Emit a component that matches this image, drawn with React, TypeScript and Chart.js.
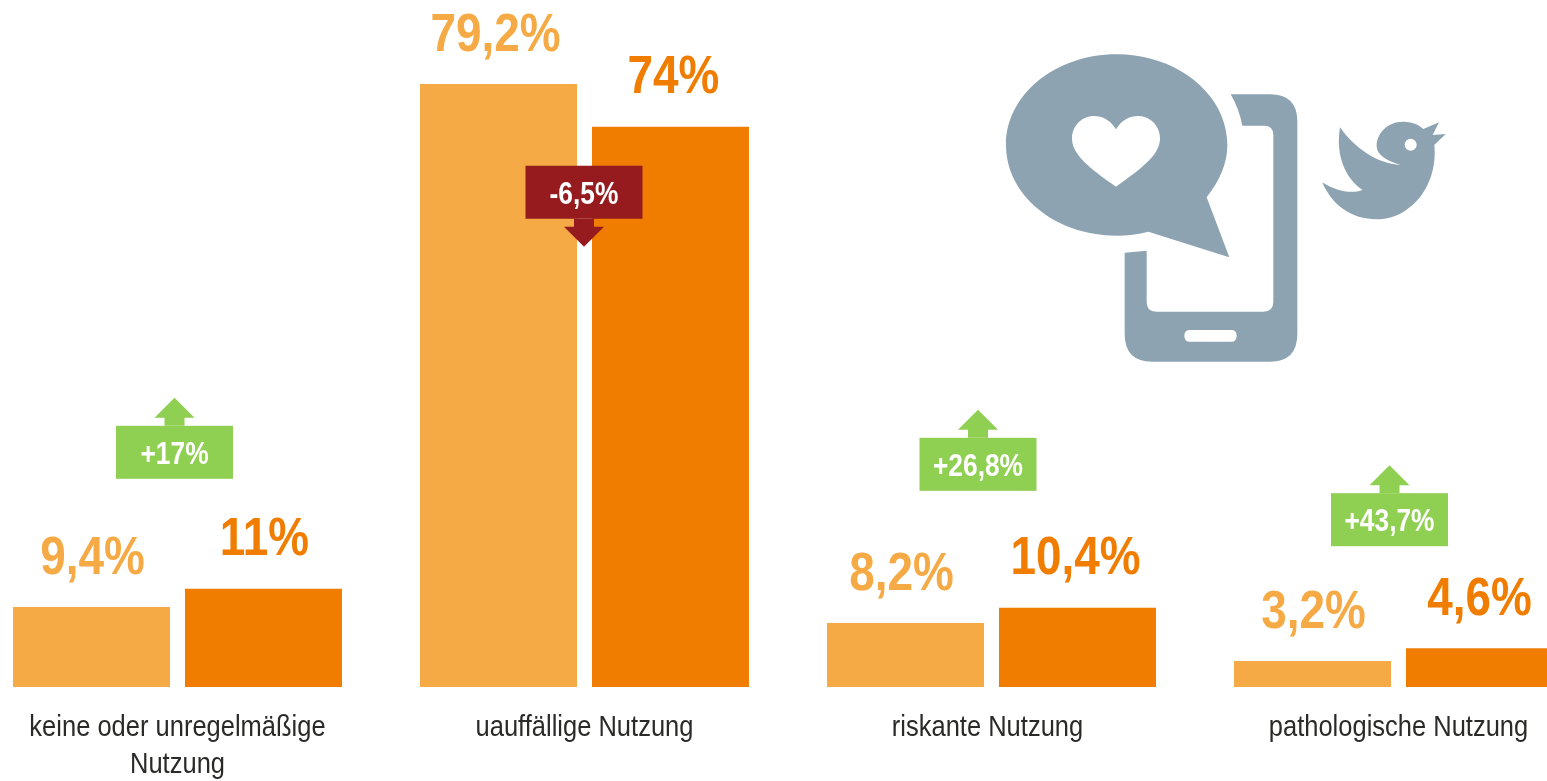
import React, { useEffect, useRef } from "react";
import { Chart, registerables } from "chart.js";

Chart.register(...registerables);

const categories: string[][] = [
  ["keine oder unregelmäßige", "Nutzung"],
  ["uauffällige Nutzung"],
  ["riskante Nutzung"],
  ["pathologische Nutzung"],
];
// bar heights, in percent-axis units
const seriesLight = [10.5, 79.2, 8.4, 3.4];
const seriesDark = [12.9, 73.6, 10.4, 5.1];
const labelsLight = ["9,4%", "79,2%", "8,2%", "3,2%"];
const labelsDark = ["11%", "74%", "10,4%", "4,6%"];
const changeLabels = ["+17%", "-6,5%", "+26,8%", "+43,7%"];
const changeUp = [true, false, true, true];

const FONT = '"Liberation Sans", sans-serif';
const NARROW = 0.85;
const LIGHT = "#F6AA45";
const DARK = "#F07D00";
const GREEN = "#8FCF52";
const RED = "#951B1E";
const ICON = "#8DA3B1";
const TEXT = "#2A2A28";

// small placement nudges relative to bars / category centres, px
const badgeDx = [-3, -0.5, -13.5, -9];
const badgeBottomAboveBar = [110, -92, 117, 102];
const categoryDx = [0, 0, -4, 0];
const labelDx = [
  [1, -3, -4, 1],
  [1, 3, -2, -5],
];

function narrowText(ctx: CanvasRenderingContext2D, t: string, x: number, y: number) {
  ctx.save();
  ctx.translate(x, y);
  ctx.scale(NARROW, 1);
  ctx.fillText(t, 0, 0);
  ctx.restore();
}

const valueLabelPlugin = {
  id: "valueLabels",
  afterDatasetsDraw(chart: any) {
    const ctx = chart.ctx;
    ctx.save();
    ctx.textAlign = "center";
    ctx.textBaseline = "alphabetic";
    ctx.font = `bold 54px ${FONT}`;
    [labelsLight, labelsDark].forEach((labels, ds) => {
      const meta = chart.getDatasetMeta(ds);
      ctx.fillStyle = ds === 0 ? LIGHT : DARK;
      labels.forEach((t, i) => {
        const el = meta.data[i];
        narrowText(ctx, t, el.x + labelDx[ds][i], el.y - 33.5);
      });
    });
    const W = 117;
    const H = 53;
    changeLabels.forEach((t, i) => {
      const top2 = Math.min(
        chart.getDatasetMeta(0).data[i].y,
        chart.getDatasetMeta(1).data[i].y
      );
      const dark = chart.getDatasetMeta(1).data[i].y;
      const cx = chart.scales.x.getPixelForValue(i) + badgeDx[i];
      const bottom = (i === 1 ? dark : top2) - badgeBottomAboveBar[i];
      const top = bottom - H;
      const up = changeUp[i];
      ctx.fillStyle = up ? GREEN : RED;
      ctx.fillRect(cx - W / 2, top, W, H);
      ctx.beginPath();
      if (up) {
        ctx.moveTo(cx - 10, top);
        ctx.lineTo(cx - 10, top - 8);
        ctx.lineTo(cx - 20, top - 8);
        ctx.lineTo(cx, top - 28);
        ctx.lineTo(cx + 20, top - 8);
        ctx.lineTo(cx + 10, top - 8);
        ctx.lineTo(cx + 10, top);
      } else {
        ctx.moveTo(cx - 10, bottom);
        ctx.lineTo(cx - 10, bottom + 8);
        ctx.lineTo(cx - 20, bottom + 8);
        ctx.lineTo(cx, bottom + 28);
        ctx.lineTo(cx + 20, bottom + 8);
        ctx.lineTo(cx + 10, bottom + 8);
        ctx.lineTo(cx + 10, bottom);
      }
      ctx.closePath();
      ctx.fill();
      ctx.fillStyle = "#FFFFFF";
      ctx.font = `bold 31px ${FONT}`;
      narrowText(ctx, t, cx, top + 38);
    });
    // category labels, condensed, under the axis
    ctx.fillStyle = TEXT;
    ctx.font = `30px ${FONT}`;
    const bottom = chart.chartArea.bottom;
    categories.forEach((lines, i) => {
      const cx = chart.scales.x.getPixelForValue(i) + categoryDx[i];
      lines.forEach((line, j) => narrowText(ctx, line, cx, bottom + 49 + j * 37));
    });
    ctx.restore();
  },
};

function Icons() {
  return (
    <svg
      width={1547}
      height={781}
      style={{ position: "absolute", left: 0, top: 0, pointerEvents: "none" }}
    >
      <g transform="translate(990 40) scale(0.33333)" fill={ICON}>
        <path
          fillRule="evenodd"
          d="M722 163 H840 Q922 163 922 245 V882 Q922 965 840 965 H487 Q404 965 404 882 V638 L470 632 V785 Q470 815 500 815 H820 Q850 815 850 785 V285 Q850 257 822 257 H757 Q747 205 722 163 Z
             M600 870 H724 Q740 870 740 887 Q740 905 724 905 H600 Q583 905 583 887 Q583 870 600 870 Z"
        />
        <path
          fillRule="evenodd"
          d="M380 43 C565 43 712 165 712 315 C712 370 690 420 650 472 L718 652 L475 575 C445 583 412 587 380 587 C195 587 48 465 48 315 C48 165 195 43 380 43 Z
             M378 268 C360 238 335 228 312 228 C275 228 246 258 246 296 C246 350 320 398 378 440 C436 398 510 350 510 296 C510 258 481 228 444 228 C421 228 396 238 378 268 Z"
        />
        <path
          fillRule="evenodd"
          d="M1050 262 C1090 320 1160 372 1232 375 C1190 362 1160 345 1160 318 C1160 278 1195 245 1238 245 C1265 245 1285 253 1300 267 L1347 247 L1328 285 L1367 282 L1333 315 C1345 440 1260 538 1160 538 C1085 538 1025 495 997 427 C1040 455 1085 462 1118 450 C1070 420 1035 350 1050 262 Z
             M1262 296 A18 18 0 1 0 1262 332 A18 18 0 1 0 1262 296 Z"
        />
      </g>
    </svg>
  );
}

export default function App() {
  const ref = useRef<HTMLCanvasElement>(null);
  useEffect(() => {
    document.body.style.margin = "0";
    const chart = new Chart(ref.current as HTMLCanvasElement, {
      type: "bar",
      data: {
        labels: categories as any,
        datasets: [
          {
            data: seriesLight,
            backgroundColor: LIGHT,
            categoryPercentage: 0.845,
            barPercentage: 0.913,
          },
          {
            data: seriesDark,
            backgroundColor: DARK,
            categoryPercentage: 0.845,
            barPercentage: 0.913,
          },
        ],
      },
      options: {
        animation: false,
        responsive: false,
        layout: { padding: 0 },
        plugins: { legend: { display: false }, title: { display: false }, tooltip: { enabled: false } },
        scales: {
          x: {
            grid: { display: false },
            border: { display: false },
            afterFit: (axis: any) => {
              axis.height = 94;
            },
            ticks: { display: false },
          },
          y: { display: false, min: 0, max: 90.25 },
        },
      },
      plugins: [valueLabelPlugin],
    } as any);
    return () => chart.destroy();
  }, []);
  return (
    <div style={{ position: "fixed", left: 0, top: 0, width: 1547, height: 781, overflow: "hidden", background: "#fff" }}>
      <canvas
        ref={ref}
        width={1628}
        height={781}
        style={{ position: "absolute", left: -26, top: 0, display: "block" }}
      />
      <Icons />
    </div>
  );
}
